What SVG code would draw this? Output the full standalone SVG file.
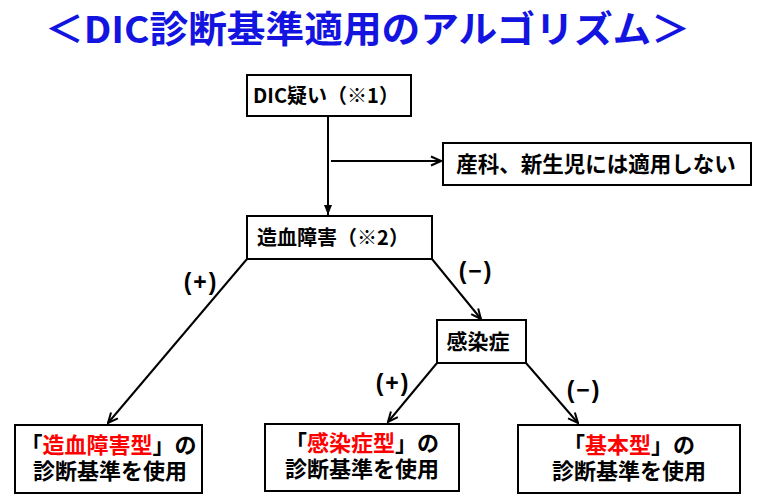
<svg xmlns="http://www.w3.org/2000/svg" width="757" height="501" viewBox="0 0 757 501">
<style>
.box{fill:#fff;stroke:#000;stroke-width:2}
.t{font-family:"Noto Sans CJK JP","Liberation Sans",sans-serif;font-weight:bold;fill:#000;text-anchor:middle}
.s{font-family:"Noto Sans CJK JP","Liberation Sans",sans-serif;font-weight:bold;font-size:22px;fill:#000;text-anchor:start}
.red{fill:#ff0000}
.ln{stroke:#000;stroke-width:2;fill:none}
.lbl{font-family:"Liberation Sans","Noto Sans CJK JP",sans-serif;font-weight:bold;font-size:23px;fill:#000;text-anchor:middle;letter-spacing:2px}
</style>
<defs>
<marker id="open" viewBox="0 0 12 12" refX="11" refY="6" markerWidth="12" markerHeight="12" markerUnits="userSpaceOnUse" orient="auto">
<path d="M1,1.5 L11,6 L1,10.5" fill="none" stroke="#000" stroke-width="2"/>
</marker>
<marker id="solid" viewBox="0 0 10 10" refX="10" refY="5" markerWidth="10" markerHeight="10" markerUnits="userSpaceOnUse" orient="auto">
<path d="M0,1 L10,5 L0,9 Z" fill="#000"/>
</marker>
</defs>
<rect width="757" height="501" fill="#fff"/>
<text x="45" y="43" font-family="'Noto Sans CJK JP','Liberation Sans',sans-serif" font-weight="bold" font-size="37" fill="#1414e0" textLength="645" lengthAdjust="spacingAndGlyphs">＜DIC診断基準適用のアルゴリズム＞</text>

<g id="connectors">
<line class="ln" x1="328" y1="116" x2="328" y2="215" marker-end="url(#solid)"/>
<line class="ln" x1="331" y1="161" x2="441" y2="161" marker-end="url(#open)"/>
<line class="ln" x1="247" y1="259" x2="108" y2="423" marker-end="url(#open)"/>
<line class="ln" x1="432" y1="259" x2="481" y2="319" marker-end="url(#open)"/>
<line class="ln" x1="437" y1="363" x2="388" y2="422" marker-end="url(#open)"/>
<line class="ln" x1="526" y1="363" x2="578" y2="423" marker-end="url(#open)"/>
<text class="lbl" x="201" y="290">(+)</text>
<text class="lbl" x="476" y="279">(−)</text>
<text class="lbl" x="393" y="391">(+)</text>
<text class="lbl" x="584" y="398">(−)</text>
</g>

<g id="dic">
<rect class="box" x="247" y="75" width="164" height="41"/>
<text class="t" x="326" y="103" font-size="20">DIC疑い（※1）</text>
</g>
<g id="exclude">
<rect class="box" x="443" y="143" width="308" height="42"/>
<text class="t" x="596" y="172" font-size="21.5">産科、新生児には適用しない</text>
</g>
<g id="hemato">
<rect class="box" x="247" y="216" width="185" height="43"/>
<text class="t" x="333" y="245" font-size="20">造血障害（※2）</text>
</g>
<g id="infection">
<rect class="box" x="437" y="320" width="89" height="43"/>
<text class="t" x="478" y="349" font-size="21">感染症</text>
</g>
<g id="type-hemato">
<rect class="box" x="15" y="425" width="187" height="68"/>
<text class="s" x="20.5" y="453">「</text>
<text class="s red" x="42.5" y="453">造血障害型</text>
<text class="s" x="152.5" y="453">」の</text>
<text class="t" x="110" y="479" font-size="22">診断基準を使用</text>
</g>
<g id="type-infection">
<rect class="box" x="265" y="424" width="194" height="67"/>
<text class="s" x="285" y="451">「</text>
<text class="s red" x="307" y="451">感染症型</text>
<text class="s" x="395" y="451">」の</text>
<text class="t" x="362" y="477" font-size="22">診断基準を使用</text>
</g>
<g id="type-basic">
<rect class="box" x="518" y="425" width="222" height="68"/>
<text class="s" x="563" y="453">「</text>
<text class="s red" x="585" y="453">基本型</text>
<text class="s" x="651" y="453">」の</text>
<text class="t" x="629" y="479" font-size="22">診断基準を使用</text>
</g>
</svg>
